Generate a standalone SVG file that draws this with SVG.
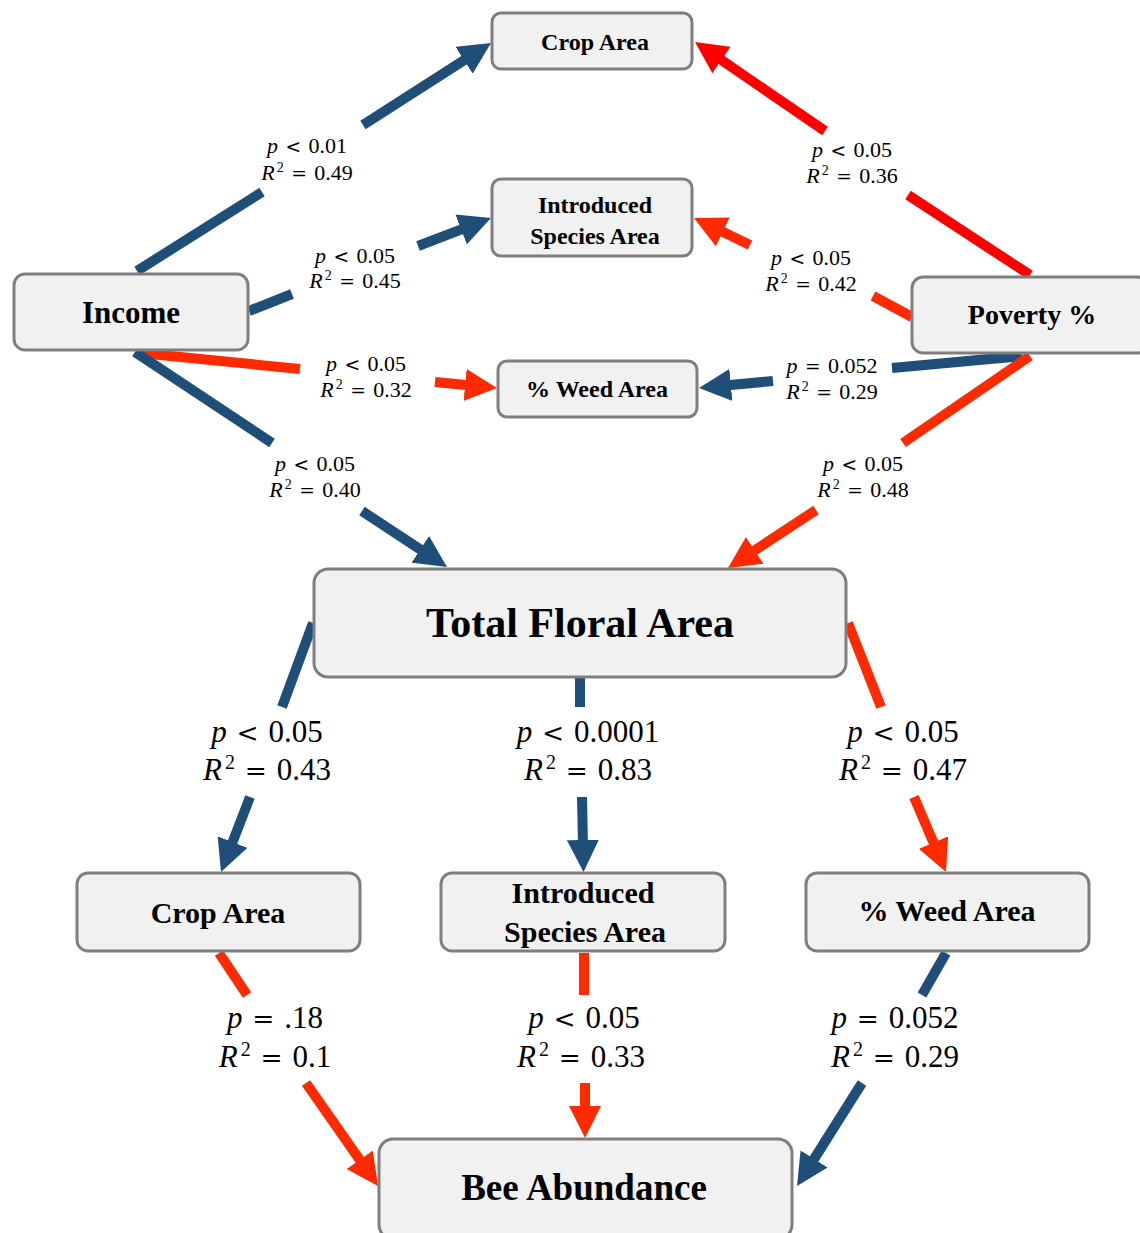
<svg xmlns="http://www.w3.org/2000/svg" width="1140" height="1233" viewBox="0 0 1140 1233">
<style>
.node rect{fill:#f1f1f1;stroke:#7f7f7f;stroke-width:3}
.nt{font-family:"Liberation Serif",serif;font-weight:bold;fill:#000;text-anchor:middle}
.lab{font-family:"Liberation Serif",serif;fill:#000;text-anchor:middle;word-spacing:2px}
.lab .i{font-style:italic}
.lab .o{font-family:"DejaVu Serif",serif;font-size:0.85em}
.big{font-size:31px}
.sm{font-size:22px}
.b{stroke:#1f4e79;stroke-width:10;fill:none}
.r{stroke:#ff2a00;stroke-width:10;fill:none}
.rr{stroke:#ff0000;stroke-width:10;fill:none}
</style>
<defs>
<marker id="ab" markerUnits="userSpaceOnUse" markerWidth="32" markerHeight="32" viewBox="0 0 32 32" refX="6" refY="16" orient="auto"><path d="M0,0 L32,16 L0,32 z" fill="#1f4e79"/></marker>
<marker id="ar" markerUnits="userSpaceOnUse" markerWidth="32" markerHeight="32" viewBox="0 0 32 32" refX="6" refY="16" orient="auto"><path d="M0,0 L32,16 L0,32 z" fill="#ff2a00"/></marker>
<marker id="arr" markerUnits="userSpaceOnUse" markerWidth="32" markerHeight="32" viewBox="0 0 32 32" refX="6" refY="16" orient="auto"><path d="M0,0 L32,16 L0,32 z" fill="#ff0000"/></marker>
</defs>
<rect width="1140" height="1233" fill="#fff"/>
<g id="connectors">
<line class="b" x1="137" y1="271" x2="262" y2="192"/>
<line class="b" x1="363" y1="125" x2="469.1" y2="57" marker-end="url(#ab)"/>
<line class="b" x1="249" y1="311" x2="292" y2="294"/>
<line class="b" x1="418" y1="246" x2="466.7" y2="227.3" marker-end="url(#ab)"/>
<line class="r" x1="140" y1="353" x2="300" y2="369"/>
<line class="r" x1="435" y1="382" x2="471.1" y2="385.5" marker-end="url(#ar)"/>
<line class="b" x1="135" y1="352" x2="272" y2="443"/>
<line class="b" x1="362" y1="511" x2="425.3" y2="552.7" marker-end="url(#ab)"/>
<line class="rr" x1="1030" y1="275" x2="908" y2="195"/>
<line class="rr" x1="825" y1="131" x2="716.5" y2="56.7" marker-end="url(#arr)"/>
<line class="r" x1="912" y1="317" x2="873" y2="296"/>
<line class="r" x1="750" y1="245" x2="717.4" y2="229.3" marker-end="url(#ar)"/>
<line class="b" x1="1022" y1="356" x2="892" y2="368"/>
<line class="b" x1="773" y1="381" x2="724.9" y2="385.6" marker-end="url(#ab)"/>
<line class="r" x1="1030" y1="356" x2="903" y2="443"/>
<line class="r" x1="816" y1="510" x2="749.7" y2="553.7" marker-end="url(#ar)"/>
<line class="b" x1="313" y1="623" x2="282" y2="707"/>
<line class="b" x1="250" y1="797" x2="230.4" y2="847.7" marker-end="url(#ab)"/>
<line class="b" x1="580" y1="677" x2="580" y2="707"/>
<line class="b" x1="582" y1="797" x2="583" y2="846" marker-end="url(#ab)"/>
<line class="r" x1="848" y1="623" x2="881" y2="707"/>
<line class="r" x1="914" y1="797" x2="935.8" y2="848.1" marker-end="url(#ar)"/>
<line class="r" x1="219" y1="953" x2="247" y2="995"/>
<line class="r" x1="306" y1="1083" x2="363.1" y2="1164.7" marker-end="url(#ar)"/>
<line class="r" x1="584" y1="953" x2="584" y2="995"/>
<line class="r" x1="585" y1="1083" x2="585" y2="1112" marker-end="url(#ar)"/>
<line class="b" x1="946" y1="953" x2="922" y2="995"/>
<line class="b" x1="862" y1="1083" x2="810.9" y2="1164" marker-end="url(#ab)"/>
</g>
<g id="labels">
<text class="lab sm" x="307" y="153"><tspan class="i">p</tspan> <tspan class="o">&lt;</tspan> 0.01</text>
<text class="lab sm" x="307" y="180"><tspan class="i">R</tspan><tspan font-size="14" dx="2" dy="-8">2</tspan><tspan dy="8"> <tspan class="o">=</tspan> 0.49</tspan></text>
<text class="lab sm" x="355" y="263"><tspan class="i">p</tspan> <tspan class="o">&lt;</tspan> 0.05</text>
<text class="lab sm" x="355" y="288"><tspan class="i">R</tspan><tspan font-size="14" dx="2" dy="-8">2</tspan><tspan dy="8"> <tspan class="o">=</tspan> 0.45</tspan></text>
<text class="lab sm" x="366" y="371"><tspan class="i">p</tspan> <tspan class="o">&lt;</tspan> 0.05</text>
<text class="lab sm" x="366" y="397"><tspan class="i">R</tspan><tspan font-size="14" dx="2" dy="-8">2</tspan><tspan dy="8"> <tspan class="o">=</tspan> 0.32</tspan></text>
<text class="lab sm" x="315" y="471"><tspan class="i">p</tspan> <tspan class="o">&lt;</tspan> 0.05</text>
<text class="lab sm" x="315" y="497"><tspan class="i">R</tspan><tspan font-size="14" dx="2" dy="-8">2</tspan><tspan dy="8"> <tspan class="o">=</tspan> 0.40</tspan></text>
<text class="lab sm" x="852" y="157"><tspan class="i">p</tspan> <tspan class="o">&lt;</tspan> 0.05</text>
<text class="lab sm" x="852" y="183"><tspan class="i">R</tspan><tspan font-size="14" dx="2" dy="-8">2</tspan><tspan dy="8"> <tspan class="o">=</tspan> 0.36</tspan></text>
<text class="lab sm" x="811" y="265"><tspan class="i">p</tspan> <tspan class="o">&lt;</tspan> 0.05</text>
<text class="lab sm" x="811" y="291"><tspan class="i">R</tspan><tspan font-size="14" dx="2" dy="-8">2</tspan><tspan dy="8"> <tspan class="o">=</tspan> 0.42</tspan></text>
<text class="lab sm" x="832" y="373"><tspan class="i">p</tspan> <tspan class="o">=</tspan> 0.052</text>
<text class="lab sm" x="832" y="399"><tspan class="i">R</tspan><tspan font-size="14" dx="2" dy="-8">2</tspan><tspan dy="8"> <tspan class="o">=</tspan> 0.29</tspan></text>
<text class="lab sm" x="863" y="471"><tspan class="i">p</tspan> <tspan class="o">&lt;</tspan> 0.05</text>
<text class="lab sm" x="863" y="497"><tspan class="i">R</tspan><tspan font-size="14" dx="2" dy="-8">2</tspan><tspan dy="8"> <tspan class="o">=</tspan> 0.48</tspan></text>
<text class="lab big" x="267" y="742"><tspan class="i">p</tspan> <tspan class="o">&lt;</tspan> 0.05</text>
<text class="lab big" x="267" y="780"><tspan class="i">R</tspan><tspan font-size="20" dx="3" dy="-11">2</tspan><tspan dy="11"> <tspan class="o">=</tspan> 0.43</tspan></text>
<text class="lab big" x="588" y="742"><tspan class="i">p</tspan> <tspan class="o">&lt;</tspan> 0.0001</text>
<text class="lab big" x="588" y="780"><tspan class="i">R</tspan><tspan font-size="20" dx="3" dy="-11">2</tspan><tspan dy="11"> <tspan class="o">=</tspan> 0.83</tspan></text>
<text class="lab big" x="903" y="742"><tspan class="i">p</tspan> <tspan class="o">&lt;</tspan> 0.05</text>
<text class="lab big" x="903" y="780"><tspan class="i">R</tspan><tspan font-size="20" dx="3" dy="-11">2</tspan><tspan dy="11"> <tspan class="o">=</tspan> 0.47</tspan></text>
<text class="lab big" x="275" y="1028"><tspan class="i">p</tspan> <tspan class="o">=</tspan> .18</text>
<text class="lab big" x="275" y="1067"><tspan class="i">R</tspan><tspan font-size="20" dx="3" dy="-11">2</tspan><tspan dy="11"> <tspan class="o">=</tspan> 0.1</tspan></text>
<text class="lab big" x="584" y="1028"><tspan class="i">p</tspan> <tspan class="o">&lt;</tspan> 0.05</text>
<text class="lab big" x="581" y="1067"><tspan class="i">R</tspan><tspan font-size="20" dx="3" dy="-11">2</tspan><tspan dy="11"> <tspan class="o">=</tspan> 0.33</tspan></text>
<text class="lab big" x="895" y="1028"><tspan class="i">p</tspan> <tspan class="o">=</tspan> 0.052</text>
<text class="lab big" x="895" y="1067"><tspan class="i">R</tspan><tspan font-size="20" dx="3" dy="-11">2</tspan><tspan dy="11"> <tspan class="o">=</tspan> 0.29</tspan></text>
</g>
<g id="crop-top" class="node"><rect x="492" y="13" width="200" height="56" rx="9"/><text class="nt" x="595" y="50" font-size="24">Crop Area</text></g>
<g id="intro-top" class="node"><rect x="492" y="179" width="200" height="77" rx="9"/><text class="nt" x="595" y="213" font-size="24">Introduced</text><text class="nt" x="595" y="244" font-size="24">Species Area</text></g>
<g id="income" class="node"><rect x="14" y="274" width="234" height="76" rx="11"/><text class="nt" x="131" y="323" font-size="31">Income</text></g>
<g id="poverty" class="node"><rect x="912" y="277" width="236" height="76" rx="11"/><text class="nt" x="1032" y="324" font-size="28">Poverty %</text></g>
<g id="weed-top" class="node"><rect x="498" y="361" width="199" height="56" rx="9"/><text class="nt" x="597" y="397" font-size="24">% Weed Area</text></g>
<g id="total-floral" class="node"><rect x="314" y="569" width="532" height="108" rx="14"/><text class="nt" x="580" y="637" font-size="42">Total Floral Area</text></g>
<g id="crop-bottom" class="node"><rect x="77" y="873" width="283" height="78" rx="11"/><text class="nt" x="218" y="923" font-size="30">Crop Area</text></g>
<g id="intro-bottom" class="node"><rect x="441" y="873" width="284" height="78" rx="11"/><text class="nt" x="583" y="903" font-size="30">Introduced</text><text class="nt" x="585" y="942" font-size="30">Species Area</text></g>
<g id="weed-bottom" class="node"><rect x="806" y="873" width="283" height="78" rx="11"/><text class="nt" x="947" y="921" font-size="30">% Weed Area</text></g>
<g id="bee" class="node"><rect x="379" y="1139" width="413" height="100" rx="14"/><text class="nt" x="584" y="1200" font-size="37">Bee Abundance</text></g>
</svg>
